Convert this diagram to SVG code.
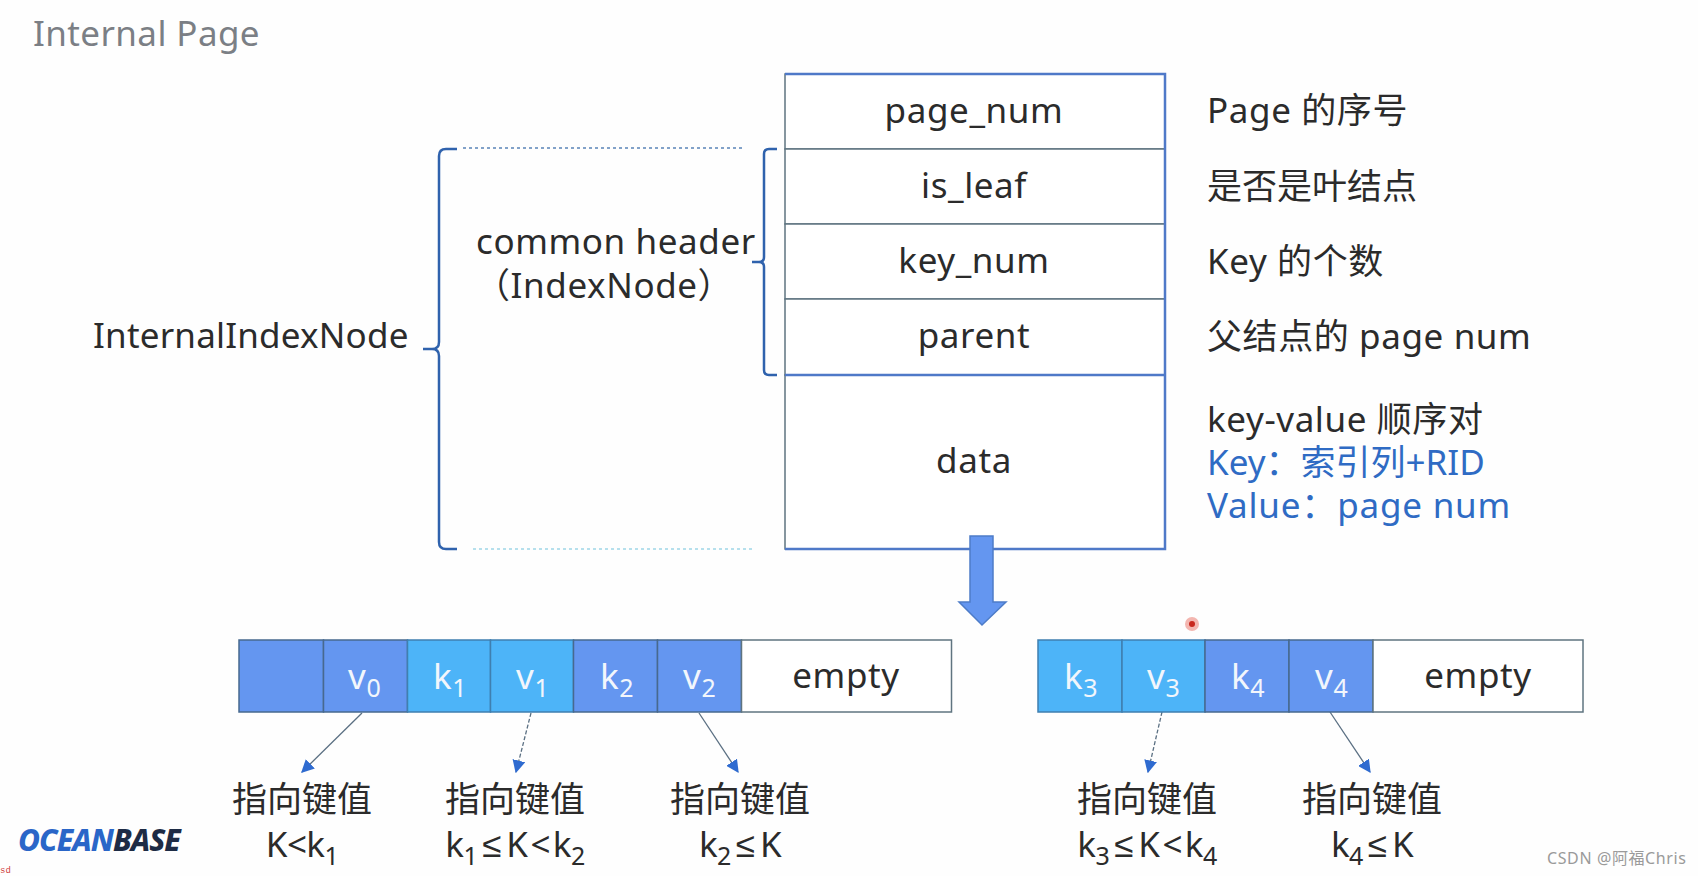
<svg xmlns="http://www.w3.org/2000/svg" width="1698" height="876" viewBox="0 0 1698 876">
<style>
text{font-family:"Noto Sans","Noto Sans CJK SC",sans-serif;font-size:35px;fill:#2b2b2b;letter-spacing:.6px}
.m{text-anchor:middle}
.w{fill:#f2f6fc}
.b{fill:#2f6bc4}
.s{font-size:25px}
.n{letter-spacing:0}
.le{font-family:"Liberation Sans",sans-serif;font-size:35px;letter-spacing:5px}
.t2{letter-spacing:-.6px}
.c{fill:#fff;stroke:#5f7480;stroke-width:1.5}
.t{stroke:#4f79c8;stroke-width:2.5;fill:none}
.br{stroke:#2f62ad;stroke-width:2.5;fill:none}
.dk{fill:#6496f0;stroke:#47698f;stroke-width:1.5}
.lt{fill:#4db4f8;stroke:#3f7fb0;stroke-width:1.5}
.e{fill:#fff;stroke:#5f7480;stroke-width:1.5}
.a{stroke:#5a6f82;stroke-width:1.3;fill:none;marker-end:url(#h)}
</style>
<defs>
<marker id="h" viewBox="0 0 10 10" refX="9" refY="5" markerWidth="13" markerHeight="13" markerUnits="userSpaceOnUse" orient="auto"><path d="M0 0L10 5L0 10Z" fill="#2f6bd0"/></marker>
</defs>
<rect width="1698" height="876" fill="#fefefe"/>
<text id="title" x="33" y="46" style="font-size:35px;fill:#7b7f85;letter-spacing:.4px">Internal Page</text>

<g id="page-table">
<g id="page_num"><rect class="c" x="785" y="74" width="380" height="75"/><text class="m" x="974" y="123">page_num</text></g>
<g id="is_leaf"><rect class="c" x="785" y="149" width="380" height="75"/><text class="m" x="974" y="198">is_leaf</text></g>
<g id="key_num"><rect class="c" x="785" y="224" width="380" height="75"/><text class="m" x="974" y="273">key_num</text></g>
<g id="parent"><rect class="c" x="785" y="299" width="380" height="76"/><text class="m" x="974" y="348">parent</text></g>
<g id="data"><rect class="c" x="785" y="375" width="380" height="174"/><text class="m" x="974" y="473">data</text></g>
<path class="t" d="M785 74H1165V549H785M785 375H1165"/>
</g>

<g id="descriptions">
<text x="1207" y="123">Page 的序号</text>
<text class="n" x="1207" y="199">是否是叶结点</text>
<text x="1207" y="274">Key 的个数</text>
<text x="1207" y="349">父结点的 page num</text>
<text x="1207" y="432">key-value 顺序对</text>
<text x="1207" y="475" class="b n">Key：索引列+RID</text>
<text x="1207" y="518" class="b" style="letter-spacing:.8px">Value：page num</text>
</g>

<g id="connectors">
<path class="br" d="M457 149H446Q439 149 439 156V342Q439 349 432 349H423M432 349Q439 349 439 356V542Q439 549 446 549H457"/>
<path class="br" d="M777 149H769Q764 149 764 154V257Q764 262 759 262H752M759 262Q764 262 764 267V370Q764 375 769 375H777"/>
<path d="M463 148H742" stroke="#5a84b8" stroke-width="1.5" stroke-dasharray="3 3" fill="none"/>
<path d="M473 549H752" stroke="#9ed6e8" stroke-width="1.5" stroke-dasharray="3 3" fill="none"/>
<path class="a" d="M362 713L302 772"/>
<path class="a" d="M531 713L516 772" stroke-dasharray="4 2"/>
<path class="a" d="M699 713L738 772"/>
<path class="a" d="M1162 712L1148 772" stroke-dasharray="4 2"/>
<path class="a" d="M1330 712L1370 772"/>
</g>

<g id="labels">
<text x="93" y="348" style="letter-spacing:.2px">InternalIndexNode</text>
<text x="476" y="254">common header</text>
<text x="475" y="298">（IndexNode）</text>
</g>

<polygon id="down-arrow" points="970,536 993,536 993,602 1006,602 982,625 959,602 970,602" fill="#6496f0" stroke="#4d7cc8" stroke-width="1.5"/>

<g id="left-array">
<g id="c0"><rect class="dk" x="239" y="640" width="84.500" height="72"/></g>
<g id="v0"><rect class="dk" x="323.500" y="640" width="84" height="72"/><text class="w" x="348" y="689">v<tspan class="s" dy="8">0</tspan></text></g>
<g id="k1"><rect class="lt" x="407.500" y="640" width="83" height="72"/><text class="w" x="433" y="689">k<tspan class="s" dy="8">1</tspan></text></g>
<g id="v1"><rect class="lt" x="490.500" y="640" width="83" height="72"/><text class="w" x="516" y="689">v<tspan class="s" dy="8">1</tspan></text></g>
<g id="k2"><rect class="dk" x="573.500" y="640" width="84" height="72"/><text class="w" x="600" y="689">k<tspan class="s" dy="8">2</tspan></text></g>
<g id="v2"><rect class="dk" x="657.500" y="640" width="84" height="72"/><text class="w" x="683" y="689">v<tspan class="s" dy="8">2</tspan></text></g>
<g id="e1"><rect class="e" x="741.500" y="640" width="210" height="72"/><text class="m" x="846" y="688">empty</text></g>
</g>

<g id="right-array">
<g id="k3"><rect class="lt" x="1038" y="640" width="84" height="72"/><text class="w" x="1064" y="689">k<tspan class="s" dy="8">3</tspan></text></g>
<g id="v3"><rect class="lt" x="1122" y="640" width="83" height="72"/><text class="w" x="1147" y="689">v<tspan class="s" dy="8">3</tspan></text></g>
<g id="k4"><rect class="dk" x="1205" y="640" width="84" height="72"/><text class="w" x="1231" y="689">k<tspan class="s" dy="8">4</tspan></text></g>
<g id="v4"><rect class="dk" x="1289" y="640" width="84" height="72"/><text class="w" x="1315" y="689">v<tspan class="s" dy="8">4</tspan></text></g>
<g id="e2"><rect class="e" x="1373" y="640" width="210" height="72"/><text class="m" x="1478" y="688">empty</text></g>
</g>

<g id="notes">
<text class="m n" x="302" y="812">指向键值</text>
<text class="m t2" x="302" y="857">K&lt;k<tspan class="s" dy="8">1</tspan></text>
<text class="m n" x="515" y="812">指向键值</text>
<text class="m t2" x="515" y="857">k<tspan class="s" dy="8">1</tspan><tspan class="le" dy="-8" dx="5">≤</tspan>K<tspan dx="3">&lt;</tspan><tspan dx="3">k</tspan><tspan class="s" dy="8">2</tspan></text>
<text class="m n" x="740" y="812">指向键值</text>
<text class="m t2" x="740" y="857">k<tspan class="s" dy="8">2</tspan><tspan class="le" dy="-8" dx="5">≤</tspan>K</text>
<text class="m n" x="1147" y="812">指向键值</text>
<text class="m t2" x="1147" y="857">k<tspan class="s" dy="8">3</tspan><tspan class="le" dy="-8" dx="5">≤</tspan>K<tspan dx="3">&lt;</tspan><tspan dx="3">k</tspan><tspan class="s" dy="8">4</tspan></text>
<text class="m n" x="1372" y="812">指向键值</text>
<text class="m t2" x="1372" y="857">k<tspan class="s" dy="8">4</tspan><tspan class="le" dy="-8" dx="5">≤</tspan>K</text>
</g>

<text id="logo" x="18" y="851" style="font-size:30px;font-weight:800;font-style:italic;fill:#2a66c8;letter-spacing:-1px">OCEAN<tspan fill="#1d2b45">BASE</tspan></text>
<circle id="pointer" cx="1192" cy="624" r="7" fill="#f3b6b0"/><circle cx="1192" cy="624" r="3" fill="#c8281e"/>
<text id="watermark" x="1547" y="864" style="font-size:16px;fill:#9a9a9a;letter-spacing:.6px">CSDN @阿福Chris</text>
<text id="sd" x="0" y="873" style="font-size:9px;fill:#d04040;font-family:'Liberation Mono',monospace;letter-spacing:0">sd</text>
</svg>
